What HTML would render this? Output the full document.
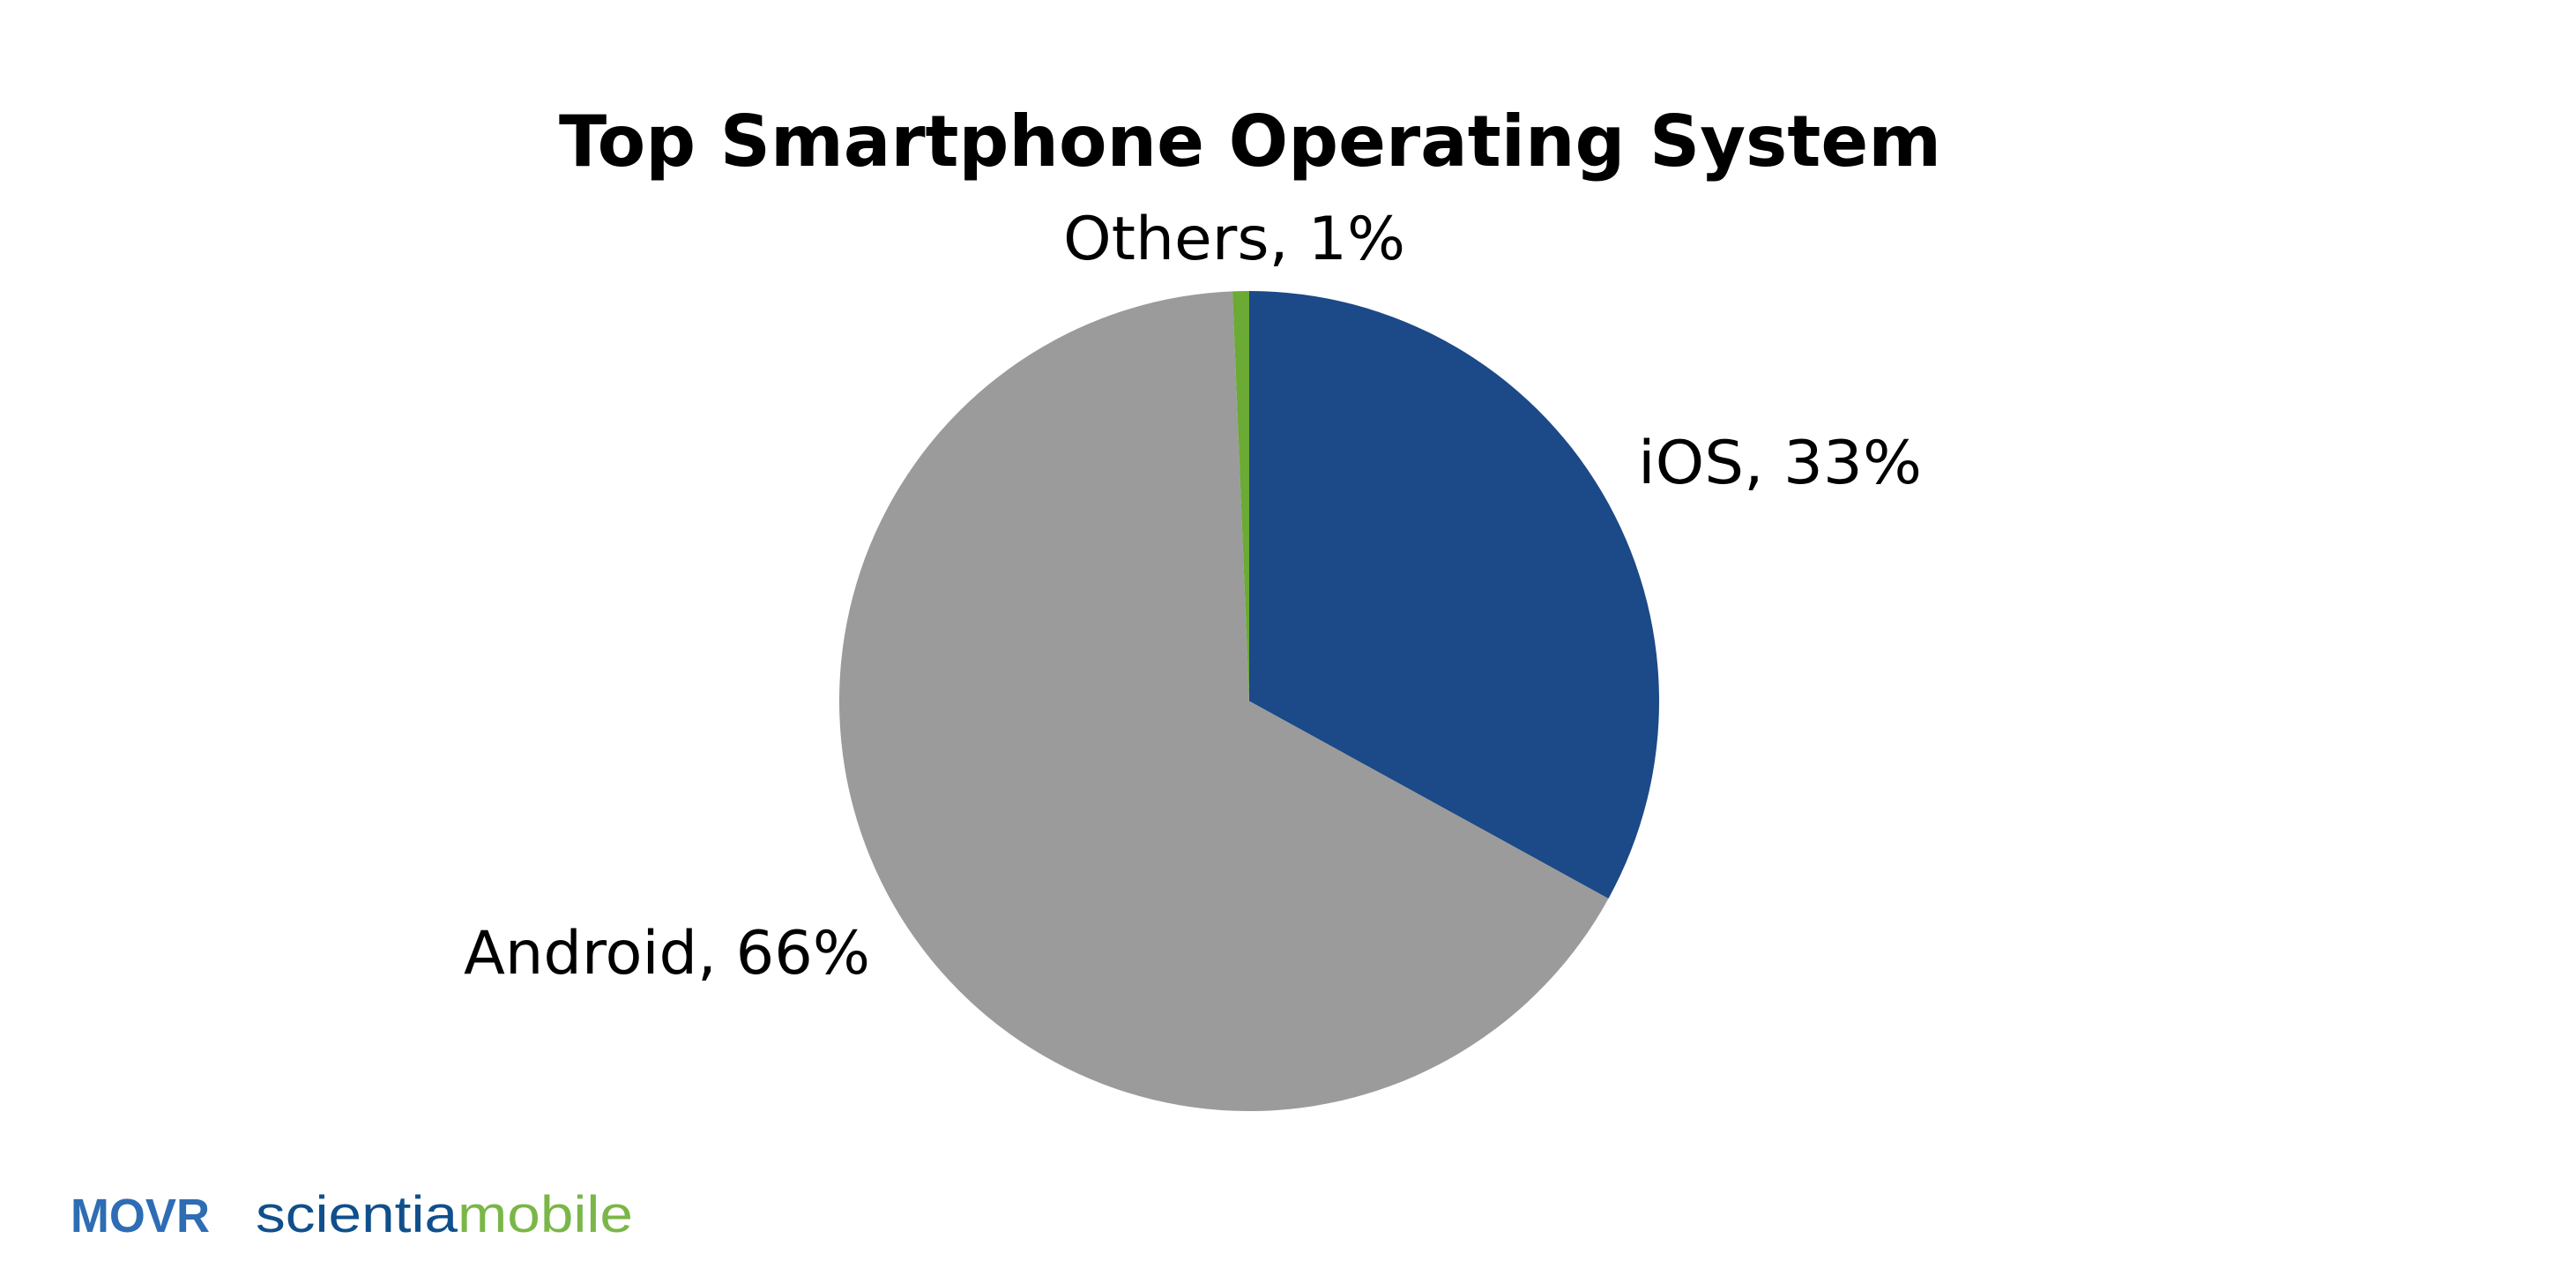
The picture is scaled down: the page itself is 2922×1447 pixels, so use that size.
<!DOCTYPE html>
<html><head><meta charset="utf-8"><style>
html,body{margin:0;padding:0;background:#fff;}
svg{display:block;}
</style></head><body>
<svg id="chart" width="2922" height="1447" viewBox="0 0 2922 1447" xmlns="http://www.w3.org/2000/svg">
<text x="1418" y="188" text-anchor="middle" font-family="'DejaVu Sans', sans-serif" font-weight="bold" font-size="80" fill="#000" textLength="1568" lengthAdjust="spacingAndGlyphs">Top Smartphone Operating System</text>
<g id="slices"></g>
<g id="labels"></g>
<text x="80" y="1397" font-family="'Liberation Sans', sans-serif" font-weight="bold" font-size="54" fill="#2e6db4" textLength="158" lengthAdjust="spacingAndGlyphs">MOVR</text>
<text x="290" y="1397" font-family="'Liberation Sans', sans-serif" font-size="58" textLength="428" lengthAdjust="spacingAndGlyphs"><tspan fill="#0f4f8c">scientia</tspan><tspan fill="#7ab648">mobile</tspan></text>
</svg>
<script>
const categories = ["iOS", "Android", "Others"];
const values = [33, 66.35, 0.65];
const valueLabels = ["33%", "66%", "1%"];
const colors = ["#1c4987", "#9b9b9b", "#6aaa35"];
const cx = 1417, cy = 795, r = 465;
const labelPos = [[1858,548,322],[526,1104,461],[1206,294,388]];
const total = values.reduce((a,b)=>a+b,0);
function angleScale(v){ return v/total*2*Math.PI; }
const ns = "http://www.w3.org/2000/svg";
const gS = document.getElementById('slices'), gL = document.getElementById('labels');
let a0 = 0;
values.forEach((v,i)=>{
  const a1 = a0 + angleScale(v);
  const x0 = cx + r*Math.sin(a0), y0 = cy - r*Math.cos(a0);
  const x1 = cx + r*Math.sin(a1), y1 = cy - r*Math.cos(a1);
  const large = (a1-a0) > Math.PI ? 1 : 0;
  const p = document.createElementNS(ns,'path');
  p.setAttribute('d',`M${cx},${cy} L${x0},${y0} A${r},${r} 0 ${large} 1 ${x1},${y1} Z`);
  p.setAttribute('fill',colors[i]);
  
  
  gS.appendChild(p);
  const t = document.createElementNS(ns,'text');
  t.setAttribute('x',labelPos[i][0]); t.setAttribute('y',labelPos[i][1]);
  t.setAttribute('textLength',labelPos[i][2]);
  t.setAttribute('lengthAdjust','spacingAndGlyphs');
  t.setAttribute('font-family',"'DejaVu Sans', sans-serif");
  t.setAttribute('font-size','68');
  t.setAttribute('fill','#000');
  t.textContent = categories[i] + ', ' + valueLabels[i];
  
  
  gL.appendChild(t);
  a0 = a1;
});
</script>
</body></html>
